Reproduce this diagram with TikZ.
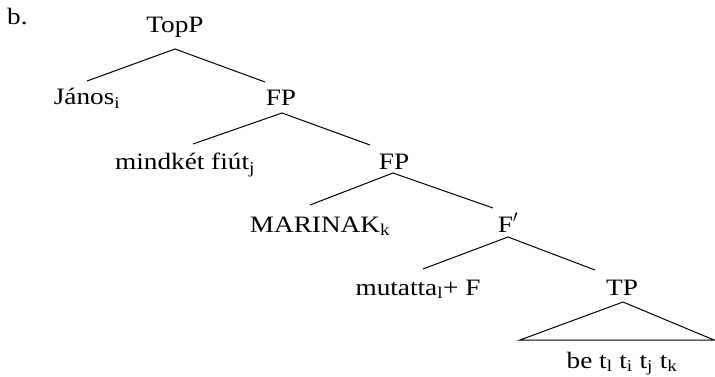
\documentclass[tikz,border=0pt]{standalone}
\usepackage{fontspec}
\setmainfont{Liberation Serif}[FakeStretch=1.16]
\begin{document}
\begin{tikzpicture}[x=1pt,y=-1pt,
  lbl/.style={anchor=base,inner sep=0pt,font=\fontsize{23.5}{28}\selectfont},
  branch/.style={line width=1pt}]
\useasboundingbox (0,0) rectangle (715,377);
\node[lbl,anchor=base west] (ex) at (7,25) {b.};
\node[lbl] (topp) at (175,33) {TopP};
\node[lbl] (janos) at (87,105) {János\textsubscript{i}};
\node[lbl] (fp1) at (281,106) {FP};
\node[lbl] (mind) at (185,170) {mindkét fiút\textsubscript{j}};
\node[lbl] (fp2) at (394,170) {FP};
\node[lbl] (marinak) at (320,232) {MARINAK\textsubscript{k}};
\node[lbl] (fbar) at (508,232) {F$'$};
\node[lbl] (mutatta) at (418,295) {mutatta\textsubscript{l}+ F};
\node[lbl] (tp) at (622,295) {TP};
\node[lbl] (be) at (622,368) {be t\textsubscript{l} t\textsubscript{i} t\textsubscript{j} t\textsubscript{k}};
% branch end points
\coordinate (topp-b) at (175,49);
\coordinate (janos-t) at (87,81);
\coordinate (fp1-t) at (265,82);
\coordinate (fp1-b) at (282,113);
\coordinate (mind-t) at (193,144);
\coordinate (fp2-t) at (370,145);
\coordinate (fp2-b) at (393,173);
\coordinate (marinak-t) at (310,205);
\coordinate (fbar-t) at (493,208);
\coordinate (fbar-b) at (508,237);
\coordinate (mutatta-t) at (423,269);
\coordinate (tp-t) at (595,270);
\coordinate (tp-b) at (623,302);
\coordinate (be-l) at (520,340);
\coordinate (be-r) at (714,340);
\draw[branch] (janos-t) -- (topp-b) -- (fp1-t);
\draw[branch] (mind-t) -- (fp1-b) -- (fp2-t);
\draw[branch] (marinak-t) -- (fp2-b) -- (fbar-t);
\draw[branch] (mutatta-t) -- (fbar-b) -- (tp-t);
\draw[branch,line join=miter] (be-l) -- (tp-b) -- (be-r) -- cycle;
\end{tikzpicture}
\end{document}
